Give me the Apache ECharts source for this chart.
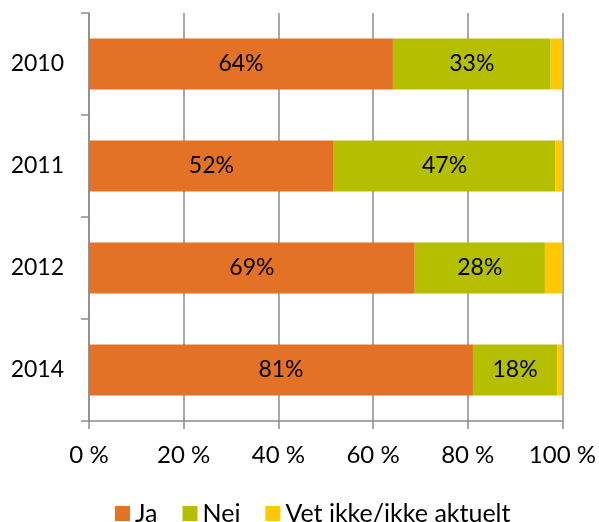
<!DOCTYPE html>
<html><head><meta charset="utf-8">
<script src="https://cdn.jsdelivr.net/npm/echarts@6/dist/echarts.min.js"></script>
<style>html,body{margin:0;padding:0;background:#fff}#c{width:599px;height:522px}</style>
</head><body><div id="c"></div>
<script>
const categories = ['2010', '2011', '2012', '2014'];
const ja = [64.2, 51.7, 68.8, 81.1];
const nei = [33.3, 46.8, 27.5, 17.8];
const vet = [2.5, 1.5, 3.7, 1.1];
const xTicks = [0, 20, 40, 60, 80, 100];

const FONT = 'Lato';
const chart = echarts.init(document.getElementById('c'));
const lbl = {
  show: true, position: 'inside', color: '#000', fontFamily: FONT, fontSize: 23,
  formatter: p => Math.round(p.value) + '%'
};
chart.setOption({
  animation: false,
  textStyle: { fontFamily: FONT },
  grid: { left: 89, right: 36, top: 13, bottom: 101 },
  legend: {
    left: 110, top: 496, itemWidth: 15, itemHeight: 15, itemGap: 25,
    icon: 'rect',
    textStyle: { fontFamily: FONT, fontSize: 25, color: '#000' },
    data: ['Ja', 'Nei', 'Vet ikke/ikke aktuelt']
  },
  xAxis: {
    type: 'value', min: xTicks[0], max: xTicks[xTicks.length - 1], interval: 20,
    axisLine: { show: true, lineStyle: { color: '#8c8c8c', width: 1.5 } },
    axisTick: { show: true, length: 8, lineStyle: { color: '#8c8c8c', width: 1.5 } },
    splitLine: { show: true, lineStyle: { color: '#8c8c8c', width: 1.5 } },
    axisLabel: { color: '#000', fontFamily: FONT, fontSize: 24, margin: 22, formatter: v => v + ' %' }
  },
  yAxis: {
    type: 'category', data: categories, inverse: true,
    axisLine: { show: true, lineStyle: { color: '#8c8c8c', width: 1.5 } },
    axisTick: { show: true, length: 8, lineStyle: { color: '#8c8c8c', width: 1.5 } },
    axisLabel: { color: '#000', fontFamily: FONT, fontSize: 23, margin: 25 }
  },
  series: [
    { name: 'Ja', type: 'bar', stack: 't', data: ja, barWidth: '50%', itemStyle: { color: '#E37226' }, label: lbl },
    { name: 'Nei', type: 'bar', stack: 't', data: nei, itemStyle: { color: '#B6BE00' }, label: lbl },
    { name: 'Vet ikke/ikke aktuelt', type: 'bar', stack: 't', data: vet, itemStyle: { color: '#FFC800' } }
  ]
});
</script></body></html>
